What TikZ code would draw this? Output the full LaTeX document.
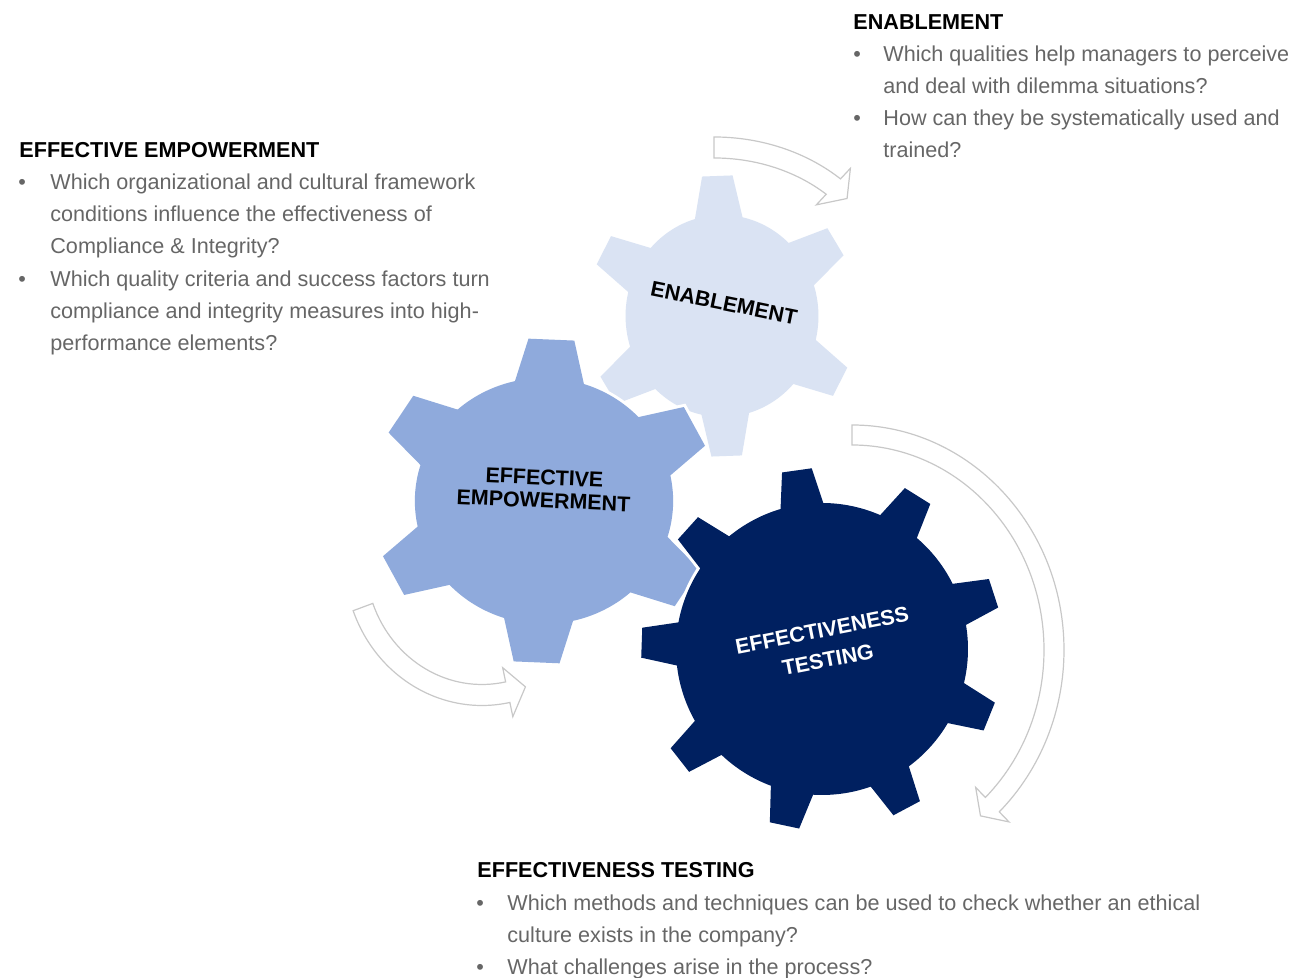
\documentclass[tikz,border=0pt]{standalone}
\usepackage{fontspec}
\setmainfont{Liberation Sans}
\usepackage{tikz}
\usetikzlibrary{calc}
\definecolor{gearlight}{HTML}{DAE3F3}
\definecolor{gearmid}{HTML}{8FAADC}
\definecolor{geardark}{HTML}{002060}
\definecolor{txtgray}{HTML}{666666}
\definecolor{arrowgray}{HTML}{C8C8C8}
\tikzset{headtxt/.style={anchor=base west, inner sep=0pt, font=\bfseries\fontsize{10.8}{16}\selectfont}}
\tikzset{itemtxt/.style={anchor=base west, inner sep=0pt, text=txtgray, font=\fontsize{10.8}{16}\selectfont}}
\tikzset{dot/.style={anchor=base west, inner sep=0pt, text=txtgray, font=\fontsize{10.8}{16}\selectfont}}
\tikzset{gearlabel/.style={inner sep=0pt, align=center, font=\bfseries\fontsize{10.7}{11.5}\selectfont}}
\tikzset{turn/.style={draw=arrowgray, fill=white, line width=0.6pt, line join=miter}}
\tikzset{gearcut/.style={preaction={draw=white, line width=3pt, line join=miter}}}

% colour, cx, cy, body radius, tip radius, teeth, first tooth, base half angle, tip half angle
\newcommand{\cogwheel}[9]{%
  \fill[#1, gearcut] ($(#2,#3)+({#7-#8}:#4)$)
    \foreach \k in {1,...,#6}{
      -- ($(#2,#3)+({#7+(\k-1)*360/#6-#9}:#5)$)
      -- ($(#2,#3)+({#7+(\k-1)*360/#6+#9}:#5)$)
      -- ($(#2,#3)+({#7+(\k-1)*360/#6+#8}:#4)$)
      arc[start angle={#7+(\k-1)*360/#6+#8}, end angle={#7+\k*360/#6-#8}, radius=#4]
    } -- cycle;}

% cx, cy, rx, ry, tail angle, head angle, tip angle, half shaft, half head
\newcommand{\turnarrow}[9]{%
  \draw[turn] ($(#1,#2)+({(#3+#8)*cos(#5)},{(#4+#8)*sin(#5)})$)
    arc[start angle=#5, end angle=#6, x radius={#3+#8}, y radius={#4+#8}]
    -- ($(#1,#2)+({(#3+#9)*cos(#6)},{(#4+#9)*sin(#6)})$)
    -- ($(#1,#2)+({#3*cos(#7)},{#4*sin(#7)})$)
    -- ($(#1,#2)+({(#3-#9)*cos(#6)},{(#4-#9)*sin(#6)})$)
    -- ($(#1,#2)+({(#3-#8)*cos(#6)},{(#4-#8)*sin(#6)})$)
    arc[start angle=#6, end angle=#5, x radius={#3-#8}, y radius={#4-#8}]
    -- cycle;}

\begin{document}
\begin{tikzpicture}[x=0.5pt, y=0.5pt]
  \useasboundingbox (0,0) rectangle (1297,978);

  % turning arrows
  \turnarrow{714}{685}{175}{145.5}{90}{47}{40.5}{10.5}{25}
  \turnarrow{482}{418}{127}{135}{200.4}{281.7}{290}{10.5}{25}
  \turnarrow{852}{328}{202}{215}{90}{-46}{-50.5}{10}{24}

  % gears
  \coordinate (Genab) at (722,662);
  \coordinate (Gempo) at (544,477);
  \coordinate (Gtest) at (822,329);
  \begin{scope}[shift={(Genab)}, xscale=0.955]
    \cogwheel{gearlight}{0}{0}{101}{141}{6}{92}{14.3}{6.5}
  \end{scope}
  \begin{scope}[shift={(Gempo)}, xscale=1.05]
    \cogwheel{gearmid}{0}{0}{123}{163}{6}{87.5}{15.5}{7.7}
  \end{scope}
  \cogwheel{geardark}{822}{329}{146}{181}{9}{98}{8.5}{4.75}

  \node[gearlabel, rotate=-11.5] (Lenab) at ($(Genab)+(2,13)$) {ENABLEMENT};
  \node[gearlabel, rotate=-2.5] (Lempo) at ($(Gempo)+(0,12)$) {EFFECTIVE\\EMPOWERMENT};
  \node[gearlabel, rotate=11, text=white, font=\bfseries\fontsize{10.7}{15}\selectfont]
       (Ltest) at ($(Gtest)+(3,4)$) {EFFECTIVENESS\\TESTING};

  % enablement
  \node[headtxt] (Henab) at (853,948) {ENABLEMENT};
  \node[dot] (Denab1) at (853,916) {\textbullet};
  \node[itemtxt] (Qenab1) at (883,916) {\parbox[t]{220pt}{Which qualities help managers to perceive\\and deal with dilemma situations?}};
  \node[dot] (Denab2) at (853,852) {\textbullet};
  \node[itemtxt] (Qenab2) at (883,852) {\parbox[t]{220pt}{How can they be systematically used and\\trained?}};

  % effective empowerment
  \node[headtxt] (Hempo) at (19,820) {EFFECTIVE EMPOWERMENT};
  \node[dot] (Dempo1) at (18,788) {\textbullet};
  \node[itemtxt] (Qempo1) at (50,788) {\parbox[t]{260pt}{Which organizational and cultural framework\\conditions influence the effectiveness of\\Compliance \& Integrity?}};
  \node[dot] (Dempo2) at (18,691) {\textbullet};
  \node[itemtxt] (Qempo2) at (50,691) {\parbox[t]{260pt}{Which quality criteria and success factors turn\\compliance and integrity measures into high-\\performance elements?}};

  % effectiveness testing
  \node[headtxt] (Htest) at (477,100) {EFFECTIVENESS TESTING};
  \node[dot] (Dtest1) at (476,67) {\textbullet};
  \node[itemtxt] (Qtest1) at (507,67) {\parbox[t]{380pt}{Which methods and techniques can be used to check whether an ethical\\culture exists in the company?}};
  \node[dot] (Dtest2) at (476,3) {\textbullet};
  \node[itemtxt] (Qtest2) at (507,3) {\parbox[t]{380pt}{What challenges arise in the process?}};
\end{tikzpicture}
\end{document}
